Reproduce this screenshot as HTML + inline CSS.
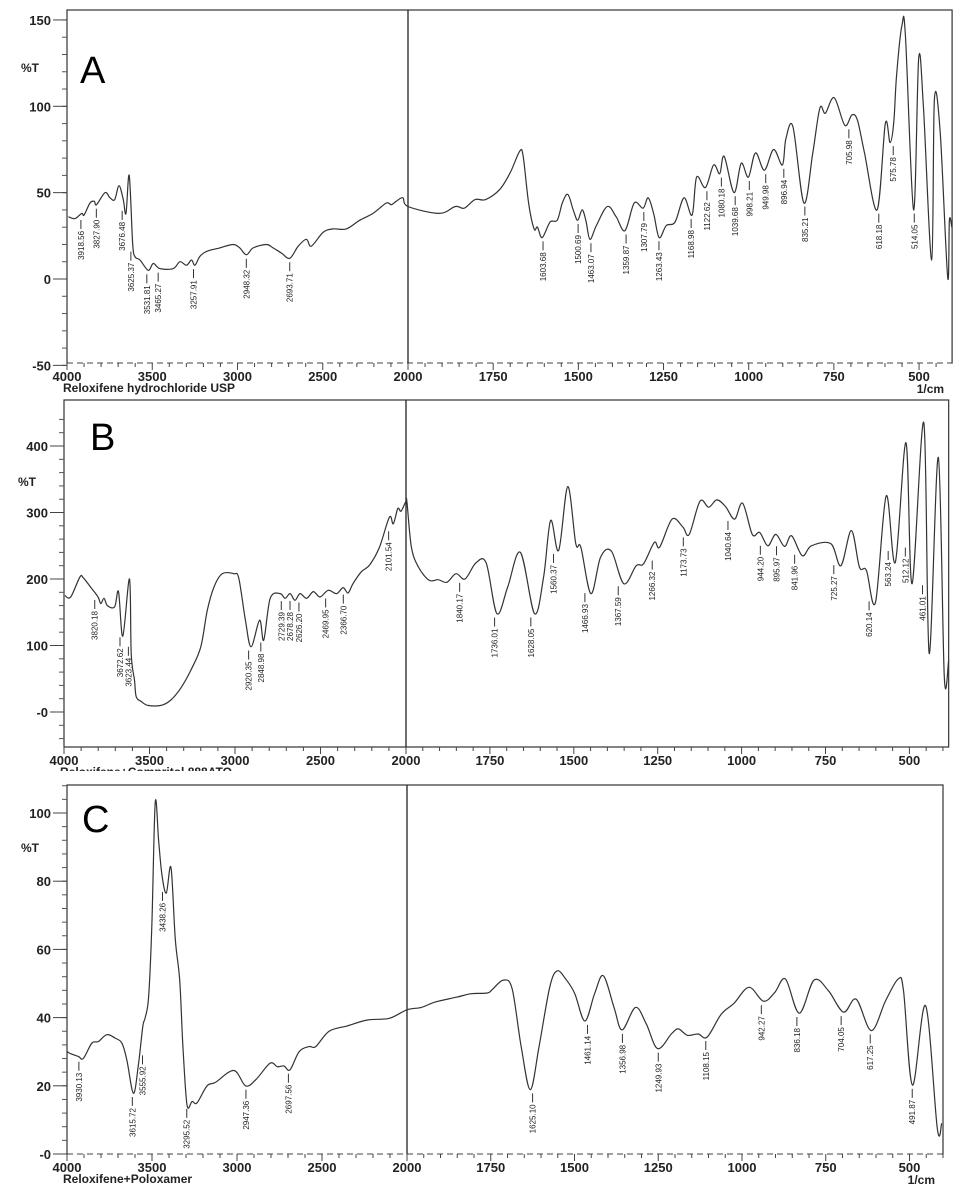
<!DOCTYPE html>
<html><head><meta charset="utf-8">
<style>
html,body{margin:0;padding:0;background:#fff;}
svg{display:block;font-family:"Liberation Sans",Arial,sans-serif;}
</style></head>
<body>
<svg id="fig" width="960" height="1190" viewBox="0 0 960 1190" xmlns="http://www.w3.org/2000/svg"></svg>
<script>
// ---------- Panel A data ----------
const aWn = [3992,3953,3914,3900,3865,3840,3827,3777,3748,3720,3695,3670,3654,3635,3615,3602,3572,3523,3494,3455,3377,3338,3299,3270,3250,3221,3182,3104,3026,2987,2948,2908,2830,2791,2742,2693,2644,2596,2567,2498,2440,2362,2284,2205,2127,2098,2069,2030,2000,
 1908,1861,1835,1803,1772,1730,1699,1672,1662,1646,1630,1620,1606,1583,1562,1547,1531,1515,1502,1489,1478,1466,1447,1415,1389,1363,1336,1310,1295,1279,1263,1242,1216,1190,1166,1153,1127,1103,1085,1072,1043,1022,1001,980,954,927,901,891,870,838,812,791,775,749,718,697,681,660,623,599,585,574,566,550,540,516,501,487,463,455,438,416,411,404];
const aT = [36,35,38,37,44,45,43,50,47,46,54,46,38,60,21,13,11,5,9,6,6,10,8,11,8,13,16,18,20,18,14,18,20,18,15,12,19,23,19,27,29,29,34,38,44,43,45,47,42,
 38,42,41,46,46,52,62,74,71,44,29,30,24,33,34,44,49,40,34,40,34,23,31,42,36,28,44,41,47,38,24,31,33,47,37,59,53,66,61,71,50,67,59,73,63,75,66,81,88,44,73,99,96,105,89,95,92,73,40,90,79,91,118,147,141,40,128,99,11,104,85,1,34,30];
const aPeaks = [3918.56,3827.90,3676.48,3625.37,3531.81,3465.27,3257.91,2948.32,2693.71,1603.68,1500.69,1463.07,1359.87,1307.79,1263.43,1168.98,1122.62,1080.18,1039.68,998.21,949.98,896.94,835.21,705.98,618.18,575.78,514.05];
const aYTicks = [150,100,50,0,-50];
const aYLabels = ["150","100","50","0","-50"];

// ---------- Panel B data ----------
const bWn = [3995,3961,3907,3888,3839,3801,3785,3766,3746,3704,3681,3656,3617,3607,3588,3578,3549,3510,3433,3375,3317,3258,3200,3162,3123,3075,3007,2978,2939,2906,2856,2832,2794,2736,2707,2678,2649,2620,2581,2542,2503,2455,2406,2368,2339,2310,2261,2213,2155,2097,2074,2048,2029,2000,
 1997,1984,1963,1931,1904,1878,1851,1824,1792,1761,1729,1697,1659,1617,1590,1569,1545,1518,1494,1479,1449,1420,1388,1351,1314,1292,1260,1244,1207,1175,1156,1124,1098,1074,1048,1021,997,968,946,922,898,872,851,819,792,734,704,673,649,628,601,569,542,510,492,457,441,414,396,383];
const bT = [175,173,203,202,186,173,163,171,160,158,181,114,200,88,48,23,16,10,10,18,36,63,98,153,188,208,208,201,138,98,138,108,171,178,171,178,168,178,171,181,173,183,178,187,179,193,211,221,248,293,283,306,302,317,
 315,248,218,198,199,195,208,200,224,224,148,188,240,148,203,288,243,339,253,248,178,233,242,193,220,223,255,248,290,278,267,317,308,319,309,290,314,267,270,250,267,249,265,235,250,253,220,273,218,213,165,325,225,405,193,435,88,383,53,78];
const bPeaks = [3820.18,3672.62,3623.44,2920.35,2848.98,2729.39,2678.28,2626.20,2469.95,2366.70,2101.54,1840.17,1736.01,1628.05,1560.37,1466.93,1367.59,1266.32,1173.73,1040.64,944.20,895.97,841.96,725.27,620.14,563.24,512.12,461.01];
const bYTicks = [400,300,200,100,0];
const bYLabels = ["400","300","200","100","-0"];

// ---------- Panel C data ----------
const cWn = [3998,3982,3933,3904,3854,3815,3766,3717,3677,3648,3609,3579,3554,3540,3520,3501,3481,3461,3442,3416,3388,3363,3337,3318,3294,3264,3235,3176,3127,3019,2950,2891,2806,2763,2724,2688,2635,2576,2537,2458,2350,2232,2104,2000,
 1957,1915,1851,1808,1760,1744,1712,1686,1659,1632,1606,1574,1552,1526,1499,1469,1440,1414,1382,1358,1318,1286,1252,1211,1190,1163,1131,1104,1062,1024,979,936,902,870,829,785,742,697,659,614,571,534,518,491,452,417,404];
const cT = [30,29.5,28.6,28,32.5,33,35,34,32.5,27.6,17.8,26.6,37.4,40,46,66.7,103,92,82,76.5,84,63,51,31.5,14.4,15.4,15,20,21,24.5,20,21.7,26.6,25.6,25.8,24.7,30,31.5,31.5,36,37.6,39.3,39.8,42.3,
 43,44.6,46,47,47.2,48.4,51,48.4,31.4,18.9,31.4,48.9,53.7,51.3,47,39,47,52.3,43,36.4,43,38.2,30.9,35.2,36.7,34.8,35.2,34.3,41,44.2,48.9,44.8,47.4,51.3,41.3,51,47.9,41.6,45.4,36.2,45,51.3,47.9,20.2,43.5,7.5,9];
const cPeaks = [3930.13,3615.72,3555.92,3438.26,3295.52,2947.36,2697.56,1625.10,1461.14,1356.98,1249.93,1108.15,942.27,836.18,704.05,617.25,491.87];
const cYTicks = [100,80,60,40,20,0];
const cYLabels = ["100","80","60","40","20","-0"];

const xMajor = [4000,3500,3000,2500,2000,1750,1500,1250,1000,750,500];
const xMajorLabels = ["4000","3500","3000","2500","2000","1750","1500","1250","1000","750","500"];

const NS = "http://www.w3.org/2000/svg";
const svg = document.getElementById('fig');
function mk(tag, attrs, parent){
  const e = document.createElementNS(NS, tag);
  for (const k in attrs) e.setAttribute(k, attrs[k]);
  (parent||svg).appendChild(e);
  return e;
}
function interp(wnArr, tArr, w){
  for (let i=0;i<wnArr.length-1;i++){
    const a=wnArr[i], b=wnArr[i+1];
    if ((w<=a && w>=b)){ const f=(a-w)/(a-b||1); return tArr[i]+(tArr[i+1]-tArr[i])*f; }
  }
  return tArr[tArr.length-1];
}
function localMin(wnArr, tArr, w, win){
  let m = interp(wnArr,tArr,w);
  for (let d=-win; d<=win; d+=1){ const v=interp(wnArr,tArr,w+d); if (v<m) m=v; }
  return m;
}

function drawPanel(p){
  const g = mk('g',{});
  
  
  const X = w => w>=2000 ? p.x4000 + (4000-w)*(p.x2000-p.x4000)/2000 : p.x2000 + (2000-w)*p.k;
  const Y = t => p.y0 - t*p.ky;
  const xR = X(p.wnEnd);
  const fr = mk('rect',{x:p.x4000,y:p.top,width:xR-p.x4000,height:p.bottom-p.top,fill:'none',stroke:'#333','stroke-width':1.2},g);
  
  
  if (p.dashed){
    mk('line',{x1:p.x4000+1,y1:p.bottom,x2:xR-1,y2:p.bottom,stroke:'#fff','stroke-width':2},g);
    const dl = mk('line',{x1:p.x4000,y1:p.bottom,x2:xR,y2:p.bottom,stroke:'#444','stroke-width':1,'stroke-dasharray':'6,4'},g);
    
    
  }
  const dv = mk('line',{x1:X(2000),y1:p.top,x2:X(2000),y2:p.bottom,stroke:'#222','stroke-width':1.3},g);
  
  
  for (let w=4000; w>=2000; w-=100){
    const big = w%500===0;
    mk('line',{x1:X(w),y1:p.bottom,x2:X(w),y2:p.bottom+(big?7:4),stroke:'#444','stroke-width':1},g);
  }
  for (let w=1950; w>=p.wnEnd; w-=50){
    const big = w%250===0;
    mk('line',{x1:X(w),y1:p.bottom,x2:X(w),y2:p.bottom+(big?7:4),stroke:'#444','stroke-width':1},g);
  }
  xMajor.forEach((w,i)=>{
    const t = mk('text',{x:X(w),y:p.bottom+18,'text-anchor':'middle','font-size':13,'font-weight':'bold',fill:'#222'},g);
    t.textContent = xMajorLabels[i];
    
    
  });
  if (p.unit){
    const u = mk('text',{x:xR-8,y:p.bottom+30,'text-anchor':'end','font-size':12,'font-weight':'bold',fill:'#222'},g);
    u.textContent='1/cm';
    
    
  }
  for (let v=p.yMin; v<=p.yMax+0.001; v+=p.yMinor){
    mk('line',{x1:p.x4000-5,y1:Y(v),x2:p.x4000,y2:Y(v),stroke:'#555','stroke-width':1},g);
  }
  p.yTicks.forEach((v,i)=>{
    mk('line',{x1:p.x4000-14,y1:Y(v),x2:p.x4000,y2:Y(v),stroke:'#444','stroke-width':1},g);
    const t = mk('text',{x:p.x4000-16,y:Y(v)+5,'text-anchor':'end','font-size':13,'font-weight':'bold',fill:'#222'},g);
    t.textContent = p.yLabels[i];
    
    
  });
  const yl = mk('text',{x:p.x4000-46,y:p.pctY,'font-size':12,'font-weight':'bold',fill:'#222'},g);
  yl.textContent='%T';
  
  
  const letter = mk('text',{x:p.letterX,y:p.letterY,'font-size':38,fill:'#000'},g);
  letter.textContent = p.id;
  
  
  const pts = p.wn.map((w,i)=>[X(w),Y(p.t[i])]);
  let d = 'M'+pts[0][0].toFixed(1)+','+pts[0][1].toFixed(1);
  for (let i=0;i<pts.length-1;i++){
    const p0=pts[Math.max(0,i-1)], p1=pts[i], p2=pts[i+1], p3=pts[Math.min(pts.length-1,i+2)];
    const c1=[p1[0]+(p2[0]-p0[0])/6, p1[1]+(p2[1]-p0[1])/6];
    const c2=[p2[0]-(p3[0]-p1[0])/6, p2[1]-(p3[1]-p1[1])/6];
    d += ' C'+c1[0].toFixed(1)+','+c1[1].toFixed(1)+' '+c2[0].toFixed(1)+','+c2[1].toFixed(1)+' '+p2[0].toFixed(1)+','+p2[1].toFixed(1);
  }
  const path = mk('path',{d:d,fill:'none',stroke:'#333','stroke-width':1.2,'stroke-linejoin':'round'},g);
  
  
  p.peaks.forEach(w=>{
    const x = X(w), y = Y(localMin(p.wn,p.t,w,15))+4;
    mk('line',{x1:x,y1:y,x2:x,y2:y+9,stroke:'#333','stroke-width':1},g);
    const t = mk('text',{x:x+3,y:y+11,'font-size':8,fill:'#222','text-anchor':'end',
      transform:'rotate(-90 '+(x+3)+' '+(y+11)+')',
      'font-family':'"Liberation Sans Narrow","Liberation Sans",sans-serif'},g);
    t.textContent = w.toFixed(2);
    
    
  });
  const s = mk('text',{x:p.x4000-4,y:p.bottom+29,'font-size':12,'font-weight':'bold',fill:'#222'},g);
  s.textContent = p.sample;
  
  
}

drawPanel({id:'A',wn:aWn,t:aT,peaks:aPeaks,yTicks:aYTicks,yLabels:aYLabels,yMin:-50,yMax:150,yMinor:10,
  x4000:67,x2000:408,k:0.3407,wnEnd:403,y0:279,ky:1.727,top:10,bottom:363,dashed:true,unit:true,
  pctY:72,letterX:80,letterY:83,sample:'Reloxifene hydrochloride USP'});
drawPanel({id:'B',wn:bWn,t:bT,peaks:bPeaks,yTicks:bYTicks,yLabels:bYLabels,yMin:-40,yMax:440,yMinor:20,
  x4000:64,x2000:406,k:0.3356,wnEnd:383,y0:712,ky:0.665,top:400,bottom:747,dashed:false,unit:false,
  pctY:486,letterX:90,letterY:450,sample:'Reloxifene+Compritol 888ATO'});
const cov = mk('rect',{x:0,y:771,width:960,height:14,fill:'#fff'});


drawPanel({id:'C',wn:cWn,t:cT,peaks:cPeaks,yTicks:cYTicks,yLabels:cYLabels,yMin:0,yMax:108,yMinor:4,
  x4000:67,x2000:407,k:0.335,wnEnd:400,y0:1154,ky:3.41,top:785,bottom:1154,dashed:true,unit:true,
  pctY:852,letterX:82,letterY:832,sample:'Reloxifene+Poloxamer'});
</script>
</body></html>
